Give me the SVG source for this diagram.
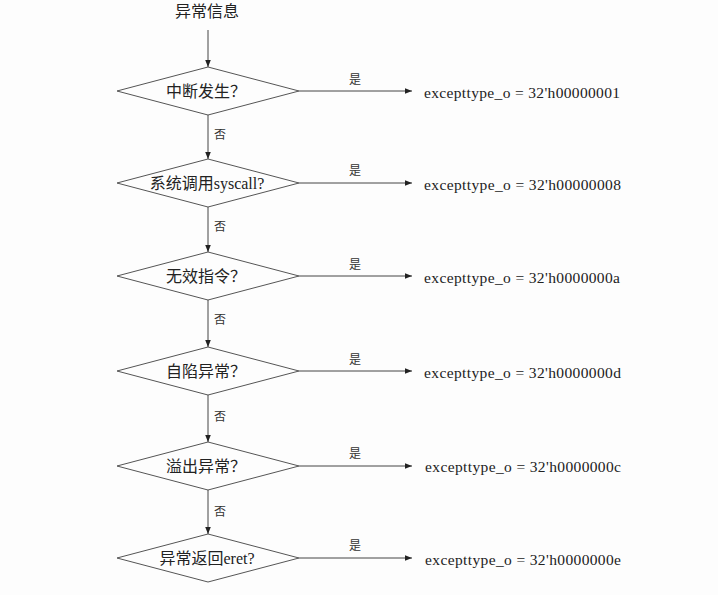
<svg xmlns="http://www.w3.org/2000/svg" width="718" height="595" viewBox="0 0 718 595">
<defs>
<marker id="ah" viewBox="0 0 10 10" refX="10" refY="5" markerWidth="9" markerHeight="7" markerUnits="userSpaceOnUse" orient="auto">
<path d="M0,1 L10,5 L0,9 z" fill="#222"/>
</marker>
<style>
.d{fill:none;stroke:#555;stroke-width:1}
.c{fill:none;stroke:#444;stroke-width:1;marker-end:url(#ah)}
.t{font-family:"Liberation Serif","Noto Sans CJK SC",serif;font-size:16px;fill:#222;text-anchor:middle;dominant-baseline:central}
.l{font-family:"Noto Sans CJK SC",serif;font-size:12px;fill:#333;text-anchor:middle;dominant-baseline:central}
.r{font-family:"Liberation Serif",serif;font-size:15.5px;fill:#222;dominant-baseline:central}
</style>
</defs>
<rect width="718" height="595" fill="#fdfdfd"/>
<text class="t" x="207" y="11">异常信息</text>
<g id="n1"><polygon class="d" points="117,91 208,67 299,91 208,115"/><text class="t" x="206" y="91">中断发生？</text></g>
<g id="n2"><polygon class="d" points="117,183 208,159 299,183 208,207"/><text class="t" x="207" y="183">系统调用syscall?</text></g>
<g id="n3"><polygon class="d" points="117,276 208,252 299,276 208,300"/><text class="t" x="206" y="276">无效指令？</text></g>
<g id="n4"><polygon class="d" points="117,371 208,347 299,371 208,395"/><text class="t" x="206" y="371">自陷异常？</text></g>
<g id="n5"><polygon class="d" points="117,466 208,442 299,466 208,490"/><text class="t" x="206" y="466">溢出异常？</text></g>
<g id="n6"><polygon class="d" points="117,558 208,534 299,558 208,582"/><text class="t" x="207" y="558">异常返回eret?</text></g>
<g id="o1"><text class="r" x="424" y="92" textLength="196">excepttype_o = 32'h00000001</text></g>
<g id="o2"><text class="r" x="424" y="184" textLength="197">excepttype_o = 32'h00000008</text></g>
<g id="o3"><text class="r" x="424" y="277" textLength="196">excepttype_o = 32'h0000000a</text></g>
<g id="o4"><text class="r" x="424" y="372" textLength="197">excepttype_o = 32'h0000000d</text></g>
<g id="o5"><text class="r" x="425" y="466" textLength="196">excepttype_o = 32'h0000000c</text></g>
<g id="o6"><text class="r" x="425" y="559" textLength="196">excepttype_o = 32'h0000000e</text></g>
<g id="connectors">
<line class="c" x1="208" y1="30" x2="208" y2="67"/>
<line class="c" x1="208" y1="115" x2="208" y2="159"/>
<line class="c" x1="208" y1="207" x2="208" y2="252"/>
<line class="c" x1="208" y1="300" x2="208" y2="347"/>
<line class="c" x1="208" y1="395" x2="208" y2="442"/>
<line class="c" x1="208" y1="490" x2="208" y2="534"/>
<line class="c" x1="299" y1="91" x2="412" y2="91"/>
<line class="c" x1="299" y1="183" x2="412" y2="183"/>
<line class="c" x1="299" y1="276" x2="412" y2="276"/>
<line class="c" x1="299" y1="371" x2="412" y2="371"/>
<line class="c" x1="299" y1="466" x2="412" y2="466"/>
<line class="c" x1="299" y1="558" x2="412" y2="558"/>
<text class="l" x="355" y="78">是</text>
<text class="l" x="355" y="169">是</text>
<text class="l" x="355" y="263">是</text>
<text class="l" x="355" y="358">是</text>
<text class="l" x="355" y="452">是</text>
<text class="l" x="355" y="544">是</text>
<text class="l" x="220" y="133">否</text>
<text class="l" x="220" y="225">否</text>
<text class="l" x="220" y="318">否</text>
<text class="l" x="220" y="415">否</text>
<text class="l" x="220" y="510">否</text>
</g>
</svg>
